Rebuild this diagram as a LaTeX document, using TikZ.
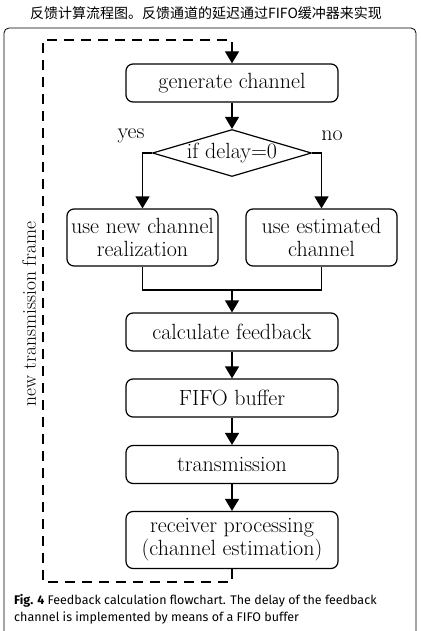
\documentclass[tikz,border=0pt]{standalone}
\usepackage{fontspec}
\newfontfamily\cjkfont{Noto Sans CJK SC}
\newfontfamily\capfont{Fira Sans}
\usetikzlibrary{arrows.meta}
\usetikzlibrary{shapes.geometric}

\begin{document}
\begin{tikzpicture}[x=1pt,y=-1pt,
		box/.style={draw,line width=1.2pt,rounded corners=7pt,minimum width=212pt,minimum height=38pt,align=center,inner sep=2pt,font=\fontsize{22}{23}\selectfont},
		sidebox/.style={box,minimum width=151pt,minimum height=57pt},
		flow/.style={line width=1.2pt,-{Triangle[length=12pt,width=14pt]}},
		feedback/.style={line width=1.2pt,dash pattern=on 10pt off 7pt,-{Triangle[length=12pt,width=14pt]}}]
	\useasboundingbox (0,0) rectangle (420,631);
	\node[font=\cjkfont\fontsize{14}{16}\selectfont] (title) at (206,13) {反馈计算流程图。反馈通道的延迟通过FIFO缓冲器来实现};
	\draw[line width=0.8pt,rounded corners=5pt] (4,631) -- (4,28) -- (416,28) -- (416,631);

	\node[box] (gen) at (232,83) {generate channel};
	\node[draw,line width=1.2pt,diamond,aspect=3.4,minimum width=159pt,minimum height=47pt,inner sep=0pt,font=\fontsize{22}{23}\selectfont] (delay) at (232,153) {if delay=0};
	\node[font=\fontsize{22}{23}\selectfont] (yes) at (131,136) {yes};
	\node[font=\fontsize{22}{23}\selectfont] (no) at (332,136) {no};
	\node[sidebox] (newch) at (142.5,237.5) {use new channel\\realization};
	\node[sidebox] (estch) at (321.5,237.5) {use estimated\\channel};
	\coordinate (merge) at (232,290);
	\node[box] (calc) at (232,332) {calculate feedback};
	\node[box] (fifo) at (232,398) {FIFO buffer};
	\node[box] (trans) at (232,464.5) {transmission};
	\node[sidebox,minimum width=212pt] (recv) at (232,540) {receiver processing\\(channel estimation)};
	\coordinate (loopbl) at (43,582);
	\coordinate (looptl) at (43,40);
	\node[rotate=90,font=\fontsize{19.5}{23}\selectfont] (framelbl) at (29,314) {new transmission frame};

	\draw[flow] (gen) -- (delay);
	\draw[flow] (delay.west) -| (newch);
	\draw[flow] (delay.east) -| (estch);
	\draw[line width=1.2pt] (newch.south) |- (merge) -| (estch.south);
	\draw[flow] (merge) -- (calc);
	\draw[flow] (calc) -- (fifo);
	\draw[flow] (fifo) -- (trans);
	\draw[flow] (trans) -- (recv);
	\draw[feedback] (recv.south) |- (loopbl) -- (looptl) -| (gen.north);

	\node[anchor=west,align=left,inner sep=0pt,font=\capfont\fontsize{12.5}{17}\selectfont] (caption) at (14,609) {\textbf{Fig. 4} Feedback calculation flowchart. The delay of the feedback\\channel is implemented by means of a FIFO buffer};
\end{tikzpicture}
\end{document}
